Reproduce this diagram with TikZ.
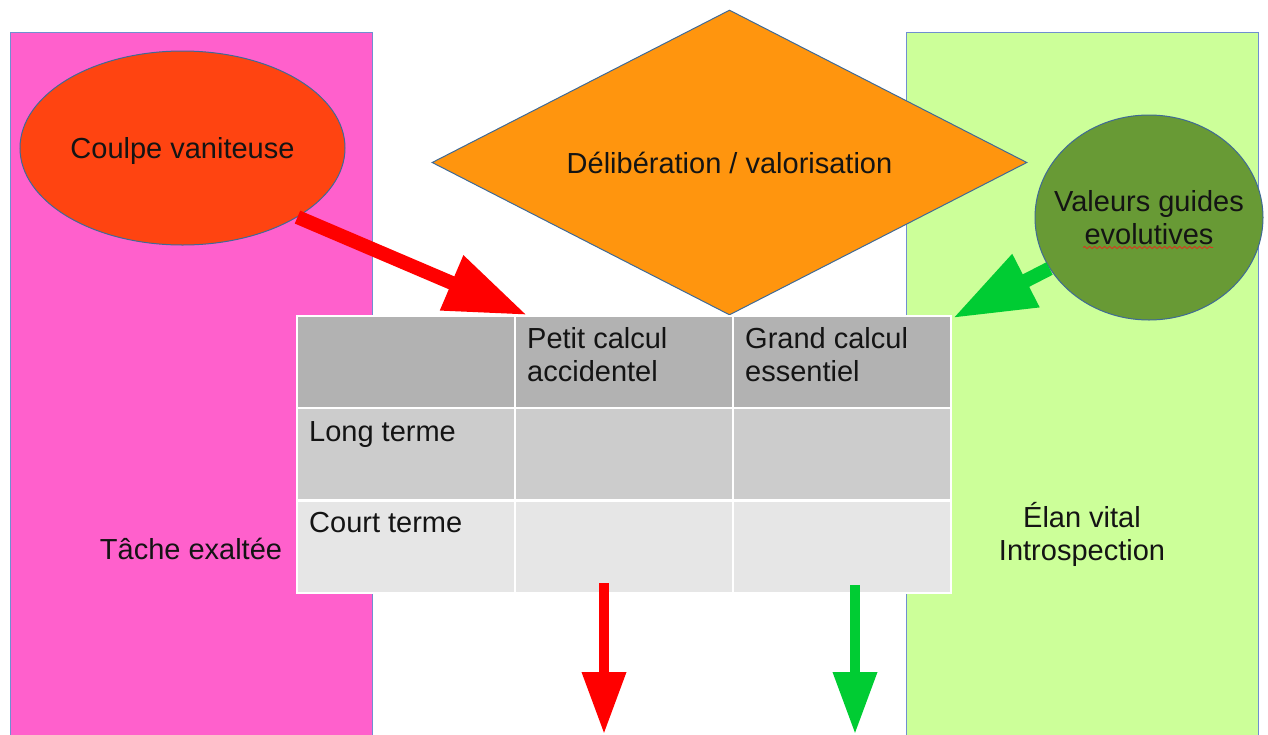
\documentclass[tikz,border=0pt]{standalone}
\usepackage{fontspec}
\setmainfont{Liberation Sans}
\usetikzlibrary{shapes.geometric,arrows.meta,decorations.pathmorphing}

\definecolor{ink}{HTML}{141414}
\definecolor{pinkfill}{HTML}{FF60CC}
\definecolor{limefill}{HTML}{CCFF99}
\definecolor{panelline}{HTML}{6F8FD0}
\definecolor{shapeline}{HTML}{3F6A96}
\definecolor{coulpefill}{HTML}{FF4411}
\definecolor{delibfill}{HTML}{FF950E}
\definecolor{valfill}{HTML}{689A35}
\definecolor{headgray}{HTML}{B2B2B2}
\definecolor{midgray}{HTML}{CCCCCC}
\definecolor{lightgray}{HTML}{E6E6E6}
\definecolor{flowred}{HTML}{FF0000}
\definecolor{flowgreen}{HTML}{00CC33}
\definecolor{spellred}{HTML}{E03020}

\tikzset{
  panel/.style={rectangle, draw=panelline, line width=1pt, inner sep=0pt},
  bubble/.style={ellipse, draw=shapeline, line width=1pt, inner sep=0pt},
  cell/.style={rectangle, draw=white, line width=2pt, inner sep=0pt,
               minimum width=218pt, minimum height=92pt},
  celltext/.style={anchor=north west, inner sep=0pt, align=left},
  bigflow/.style={line width=14pt, -{Triangle[length=82pt,width=56pt]}},
  downflow/.style={line width=10pt, -{Triangle[length=62pt,width=42pt]}},
}

\begin{document}
\begin{tikzpicture}[x=1pt, y=-1pt,
  every node/.style={font=\fontsize{29}{33}\selectfont, text=ink}]
  \path[use as bounding box] (0,0) rectangle (1268,734);
  \clip (0,0) rectangle (1268,734);

  % side panels
  \node[panel, fill=pinkfill, minimum width=362pt, minimum height=1034pt]
    (tache) at (191,549) {Tâche exaltée};
  \node[panel, fill=limefill, minimum width=352pt, minimum height=1005pt, align=center]
    (elan) at (1082,534.5) {Élan vital\\Introspection};

  % bubbles
  \node[bubble, fill=coulpefill, minimum width=325pt, minimum height=194pt,
        label={[yshift=-3pt]center:Coulpe vaniteuse}]
    (coulpe) at (182.5,148) {};
  \node[bubble, fill=valfill, minimum width=228pt, minimum height=205pt,
        label={[align=center]center:Valeurs guides\\evolutives}]
    (valeurs) at (1149,217.5) {};
  \draw[spellred, line width=0.8pt, decorate,
        decoration={snake, amplitude=1.1pt, segment length=5pt}]
    (1083,247.5) -- (1213,247.5);

  % decision diamond
  \node[diamond, draw=shapeline, line width=1pt, fill=delibfill, inner sep=0pt,
        shape aspect=2, minimum width=595pt, minimum height=305pt]
    (delib) at (729.5,162.5) {Délibération / valorisation};

  % table
  \node[cell, fill=headgray]  (c00) at (406,362) {};
  \node[cell, fill=headgray]  (c01) at (624,362) {};
  \node[cell, fill=headgray]  (c02) at (842,362) {};
  \node[cell, fill=midgray]   (c10) at (406,454) {};
  \node[cell, fill=midgray]   (c11) at (624,454) {};
  \node[cell, fill=midgray]   (c12) at (842,454) {};
  \node[cell, fill=lightgray] (c20) at (406,546.5) {};
  \node[cell, fill=lightgray] (c21) at (624,546.5) {};
  \node[cell, fill=lightgray] (c22) at (842,546.5) {};

  \node[celltext] (t01) at (527,327) {Petit calcul\\accidentel};
  \node[celltext] (t02) at (745,327) {Grand calcul\\essentiel};
  \node[celltext] (t10) at (309,421) {Long terme};
  \node[celltext] (t20) at (309,512) {Court terme};

  % flows
  \coordinate (tipR) at (527,315);
  \coordinate (tipG) at (953,318);
  \coordinate (outRtop) at (604,583);
  \coordinate (outRend) at (604,734);
  \coordinate (outGtop) at (855,585);
  \coordinate (outGend) at (855,734);

  \draw[bigflow, flowred] (coulpe.-31) -- (tipR);
  \draw[bigflow, flowgreen] (valeurs) -- (tipG);
  \draw[downflow, flowred] (outRtop) -- (outRend);
  \draw[downflow, flowgreen] (outGtop) -- (outGend);
\end{tikzpicture}
\end{document}
